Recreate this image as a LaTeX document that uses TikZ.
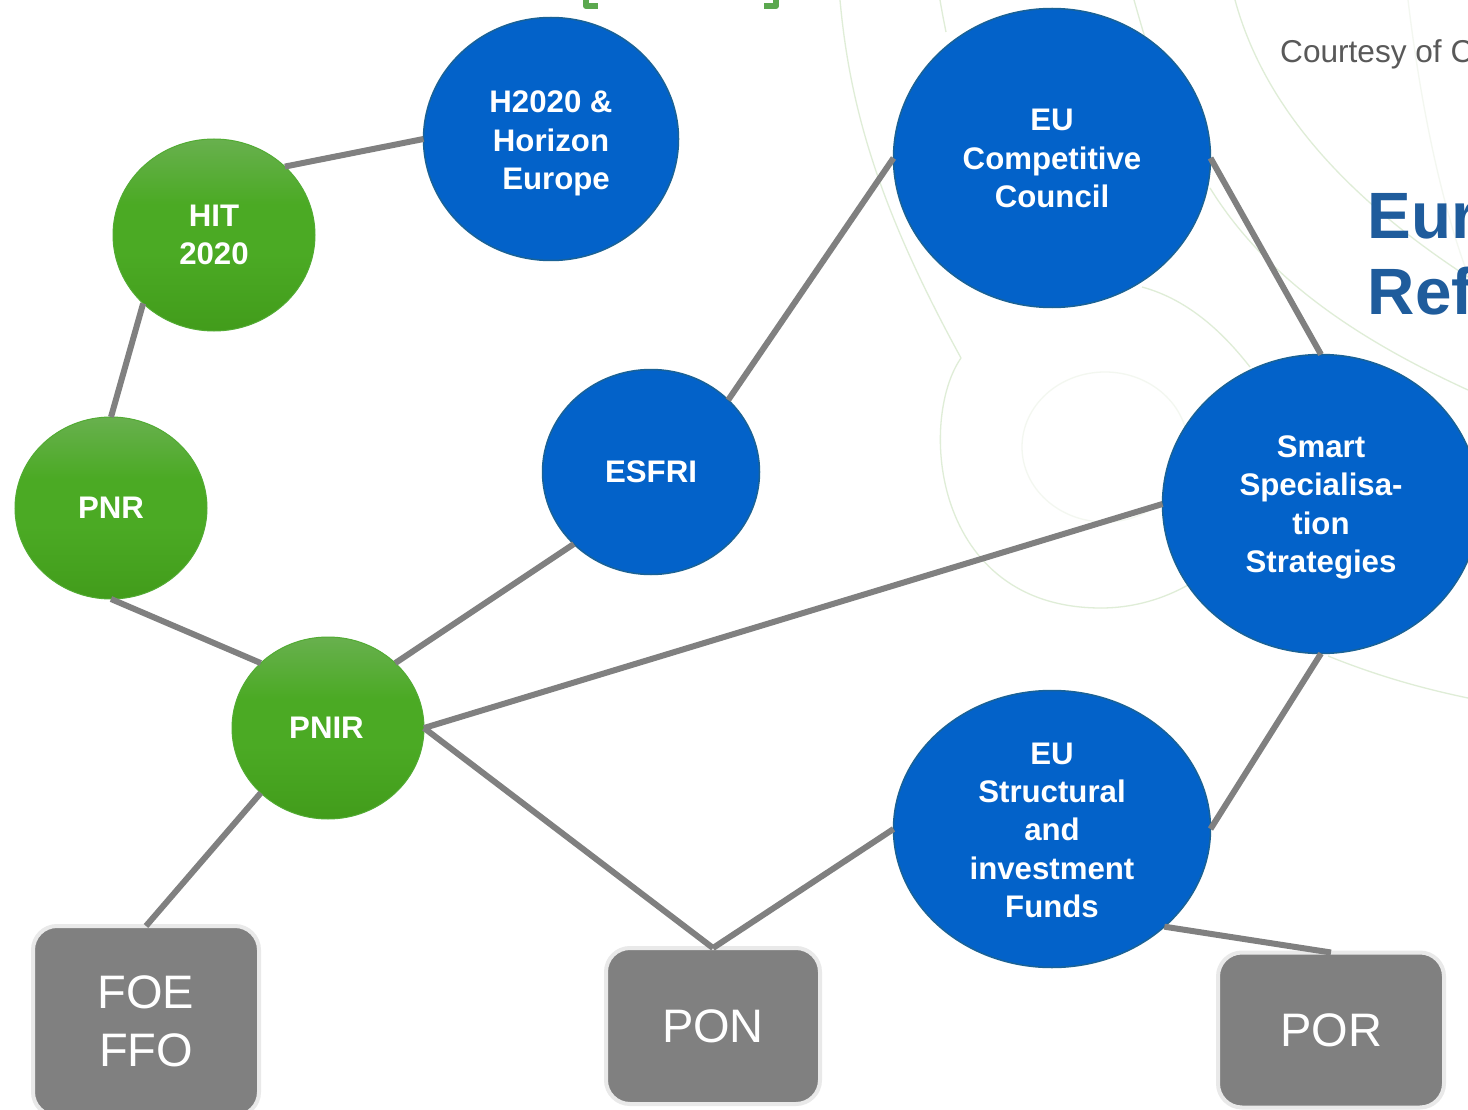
\documentclass[tikz,border=0pt]{standalone}
\usepackage{fontspec}
\setmainfont{Liberation Sans}
\usetikzlibrary{shapes.geometric}
\definecolor{hubb}{HTML}{0362C9}
\definecolor{hubbline}{HTML}{1A6296}
\definecolor{linkgray}{HTML}{808080}
\definecolor{boxedge}{HTML}{E9E9E9}
\definecolor{curvecol}{HTML}{DFEDD7}
\definecolor{curvepale}{HTML}{F3F7F0}
\definecolor{titleblue}{HTML}{1F5C9C}
\definecolor{courtesy}{HTML}{595959}
\definecolor{brackgreen}{HTML}{5BA84F}
\definecolor{gra}{HTML}{68B04E}
\definecolor{grb}{HTML}{4BAA24}
\definecolor{grd}{HTML}{429C1B}
\definecolor{gredge}{HTML}{52AB33}
\pgfdeclareverticalshading{greenball}{100bp}{color(0bp)=(grd);color(25bp)=(grd);color(45bp)=(grb);color(58bp)=(grb);color(75bp)=(gra);color(100bp)=(gra)}
\newcommand{\topgap}[1]{\rule{0pt}{#1pt}}
\tikzset{
  x=1pt,y=-1pt,
  hubtext/.style={text=white,font=\fontsize{31.2}{38.4}\selectfont\bfseries,align=center,inner sep=0pt,outer sep=0pt},
  bluehub/.style={ellipse,hubtext,fill=hubb,draw=hubbline,line width=1.5pt},
  greenhub/.style={ellipse,hubtext,shade,shading=greenball,draw=gredge,line width=1pt},
  fundbox/.style={rectangle,rounded corners=24pt,fill=linkgray,draw=boxedge,line width=4pt,text=white,
     font=\fontsize{47}{58}\selectfont,align=center,inner sep=0pt,outer sep=0pt},
  link/.style={draw=linkgray,line width=6pt},
  bgcurve/.style={draw=curvecol,line width=1.3pt},
  bgpale/.style={draw=curvepale,line width=1.3pt},
}
\begin{document}
\begin{tikzpicture}
\useasboundingbox (0,0) rectangle (1468,1110);
\clip (0,0) rectangle (1468,1110);
\fill[white] (0,0) rectangle (1468,1110);
% background contour lines
\draw[bgcurve] (840,0) .. controls (850,110) and (880,210) .. (961,358);
\draw[bgcurve] (961,358) .. controls (918,420) and (932,608) .. (1101,608);
\draw[bgcurve] (1101,608) .. controls (1135,608) and (1165,598) .. (1188,585);
\draw[bgcurve] (940,0) .. controls (942,12) and (944,22) .. (946,32);
\draw[bgcurve] (1142,287) .. controls (1190,300) and (1225,335) .. (1250,367);
\draw[bgpale] (1105,447) ellipse [x radius=83,y radius=75];
\draw[bgcurve] (1134,0) .. controls (1138,14) and (1142,28) .. (1146,41);
\draw[bgcurve] (1210,188) .. controls (1270,285) and (1370,345) .. (1468,390);
\draw[bgcurve] (1235,0) .. controls (1265,110) and (1350,200) .. (1468,277);
\draw[bgpale] (1408,0) .. controls (1420,100) and (1440,200) .. (1468,275);
\draw[bgcurve] (1328,656) .. controls (1375,675) and (1420,688) .. (1468,698);
% cropped green brackets
\draw[brackgreen,line width=6pt,line join=round] (586,0) -- (586,6) -- (598,6);
\draw[brackgreen,line width=6pt,line join=round] (776,0) -- (776,6) -- (764,6);
% cropped texts
\node (courtesynote) [anchor=base west,inner sep=0pt,text=courtesy,font=\fontsize{31.6}{36}\selectfont] at (1280,63) {Courtesy of C};
\node (titleone) [anchor=base west,inner sep=0pt,text=titleblue,font=\fontsize{65.5}{76}\selectfont\bfseries] at (1367.5,238.5) {Eur};
\node (titletwo) [anchor=base west,inner sep=0pt,text=titleblue,font=\fontsize{65.5}{76}\selectfont\bfseries] at (1367.5,315) {Ref};
% nodes
\node (hor) [bluehub,minimum width=255pt,minimum height=243pt] at (551,139) {\topgap{30.5}H2020 \&\\Horizon\\\hspace*{10pt}Europe};
\node (comp) [bluehub,minimum width=317pt,minimum height=299pt] at (1052,158) {\topgap{23}EU\\Competitive\\Council};
\node (smart) [bluehub,minimum width=317pt,minimum height=299pt] at (1321,504) {\topgap{29}Smart\\Specialisa-\\tion\\Strategies};
\node (esfri) [bluehub,minimum width=217pt,minimum height=205pt] at (651,472) {ESFRI};
\node (funds) [bluehub,minimum width=317pt,minimum height=277pt] at (1052,829) {\topgap{24}EU\\Structural\\and\\investment\\Funds};
\node (hit) [greenhub,minimum width=202pt,minimum height=192pt] at (214,235) {HIT\\2020};
\node (pnr) [greenhub,minimum width=192pt,minimum height=182pt] at (111,508) {PNR};
\node (pnir) [greenhub,minimum width=192pt,minimum height=182pt] at (328,728) {\hspace*{-3pt}PNIR};
\node (foe) [fundbox,minimum width=226pt,minimum height=190pt] at (146,1021) {FOE\\FFO};
\node (pon) [fundbox,minimum width=214pt,minimum height=156pt] at (713,1026) {PON};
\node (por) [fundbox,minimum width=226pt,minimum height=155pt] at (1331,1030) {POR};
% connectors
\draw[link] (hit.44) -- (hor.west);
\draw[link] (hit.224) -- (pnr.north);
\draw[link] (pnr.south) -- (pnir.136);
\draw[link] (pnir.44) -- (esfri.223);
\draw[link] (esfri.43) -- (comp.west);
\draw[link] (comp.east) -- (smart.north);
\draw[link] (pnir.east) -- (smart.west);
\draw[link] (pnir.east) -- (pon.north);
\draw[link] (pon.north) -- (funds.west);
\draw[link] (smart.south) -- (funds.east);
\draw[link] (funds.-41) -- (por.north);
\draw[link] (pnir.224) -- (foe.north);
\end{tikzpicture}
\end{document}
